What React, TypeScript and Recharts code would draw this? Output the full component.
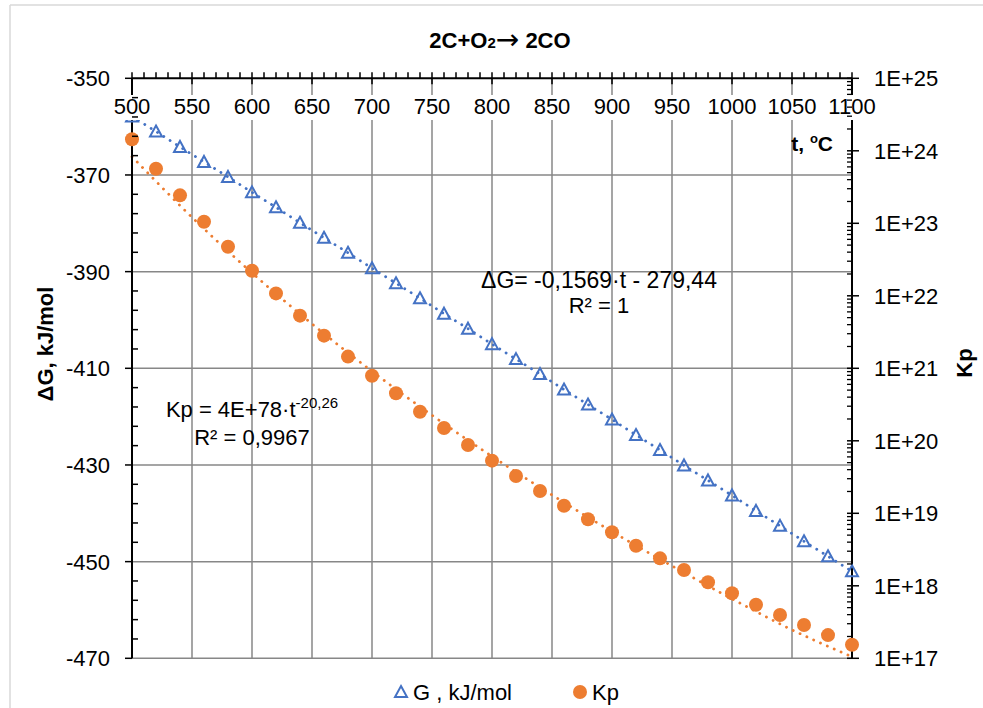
import React from 'react'
import { ComposedChart, Line, XAxis, YAxis, CartesianGrid } from 'recharts'

// temperatures of the measured points, °C
const temps = [
  500, 520, 540, 560, 580, 600, 620, 640, 660, 680, 700, 720, 740, 760, 780, 800,
  820, 840, 860, 880, 900, 920, 940, 960, 980, 1000, 1020, 1040, 1060, 1080, 1100,
]

// ΔG, kJ/mol
const dG = [
  -357.9, -361.0, -364.2, -367.3, -370.4, -373.6, -376.7, -379.9, -383.0, -386.1, -389.3,
  -392.4, -395.5, -398.7, -401.8, -405.0, -408.1, -411.2, -414.4, -417.5, -420.6, -423.8,
  -426.9, -430.1, -433.2, -436.3, -439.5, -442.6, -445.8, -448.9, -452.0,
]

// Kp
const kp = [
  1.44e24, 5.66e23, 2.43e23, 1.05e23, 4.75e22, 2.22e22, 1.08e22, 5.32e21, 2.82e21, 1.45e21,
  7.91e20, 4.52e20, 2.52e20, 1.5e20, 8.75e19, 5.32e19, 3.27e19, 2.03e19, 1.27e19, 8.26e18,
  5.47e18, 3.57e18, 2.39e18, 1.65e18, 1.12e18, 7.89e17, 5.48e17, 3.95e17, 2.88e17, 2.09e17,
  1.54e17,
]

// power trendline of Kp, read at every 50 °C
const trendTemps = [500, 550, 600, 650, 700, 750, 800, 850, 900, 950, 1000, 1050, 1100]
const kpTrend = [
  8.3e23, 1.21e23, 2.07e22, 4.1e21, 9.1e20, 2.25e20, 6.1e19, 1.79e19, 5.6e18, 1.88e18,
  6.6e17, 2.47e17, 1.05e17,
]

const xLabels = [500, 550, 600, 650, 700, 750, 800, 850, 900, 950, 1000, 1050, 1100]
const gLabels = [-350, -370, -390, -410, -430, -450, -470]
const kpExponents = [17, 18, 19, 20, 21, 22, 23, 24, 25]

const rows = temps.map((t, i) => ({ t, g: dG[i], kp: kp[i] }))
const trendRows = trendTemps.map((t, i) => ({ t, trend: kpTrend[i] }))

const xTicks: number[] = []
for (let v = 500; v <= 1100; v += 10) xTicks.push(v)
const gTicks: number[] = []
for (let v = -470; v <= -350; v += 4) gTicks.push(v)
const kpTicks: number[] = []
kpExponents.forEach((e) => {
  if (e === 25) kpTicks.push(1e25)
  else for (let m = 1; m <= 9; m++) kpTicks.push(Number(`${m}e${e}`))
})

const BLUE = '#4472C4'
const ORANGE = '#ED7D31'
const GRID = '#878787'
const FONT = "'Liberation Sans', Arial, sans-serif"

const W = 983
const H = 708
const LEFT = 132
const RIGHT = 852
const TOP = 78.3
const BOTTOM = 658.3

function XTick(props: any) {
  const { x, payload } = props
  const v = payload.value
  if (!xLabels.includes(v)) {
    return <line x1={x} x2={x} y1={TOP} y2={TOP - 6} stroke="#000" strokeWidth={1.5} />
  }
  const w = String(v).length * 12.5 + 4
  return (
    <g>
      <line x1={x} x2={x} y1={TOP - 6} y2={TOP + 6} stroke="#000" strokeWidth={1.5} />
      <rect x={x - w / 2} y={95} width={w} height={25} fill="#fff" />
      <text x={x} y={114} textAnchor="middle" fontSize={22} fontFamily={FONT} fill="#000">
        {v}
      </text>
    </g>
  )
}

function LeftTick(props: any) {
  const { y, payload } = props
  const v = payload.value
  if (!gLabels.includes(v)) {
    return <line x1={LEFT} x2={LEFT + 6} y1={y} y2={y} stroke="#000" strokeWidth={1.5} />
  }
  return (
    <g>
      <line x1={LEFT - 7} x2={LEFT} y1={y} y2={y} stroke="#000" strokeWidth={1.5} />
      <text x={110} y={y + 8} textAnchor="end" fontSize={22} fontFamily={FONT} fill="#000">
        {v}
      </text>
    </g>
  )
}

function RightTick(props: any) {
  const { y, payload } = props
  const lg = Math.log10(payload.value)
  const exp = Math.round(lg)
  if (Math.abs(lg - exp) > 1e-6) {
    return <line x1={RIGHT - 5} x2={RIGHT} y1={y} y2={y} stroke="#000" strokeWidth={1.3} />
  }
  return (
    <g>
      <line x1={RIGHT - 5} x2={RIGHT + 7} y1={y} y2={y} stroke="#000" strokeWidth={1.5} />
      <text x={874} y={y + 8} textAnchor="start" fontSize={22} fontFamily={FONT} fill="#000">
        {`1E+${exp}`}
      </text>
    </g>
  )
}

function Triangle(props: any) {
  const { cx, cy } = props
  if (cx == null || cy == null) return null
  return (
    <path
      d={`M${cx},${cy - 6} L${cx + 6},${cy + 5} L${cx - 6},${cy + 5} Z`}
      fill="none"
      stroke={BLUE}
      strokeWidth={2}
    />
  )
}

function Dot(props: any) {
  const { cx, cy } = props
  if (cx == null || cy == null) return null
  return <circle cx={cx} cy={cy} r={7} fill={ORANGE} />
}

export default function App() {
  return (
    <div style={{ position: 'absolute', left: 0, top: 0, width: W, height: H, background: '#fff' }}>
      <ComposedChart
        width={W}
        height={H}
        data={rows}
        margin={{ top: TOP - 30, right: W - RIGHT - 60, bottom: H - BOTTOM, left: LEFT - 60 }}
      >
        <CartesianGrid
          horizontalValues={[-370, -390, -410, -430, -450, -470]}
          verticalValues={[550, 600, 650, 700, 750, 800, 850, 900, 950, 1000, 1050]}
          stroke={GRID}
          strokeWidth={1.5}
        />
        <XAxis
          dataKey="t"
          type="number"
          orientation="top"
          domain={[500, 1100]}
          ticks={xTicks}
          interval={0}
          height={30}
          tickLine={false}
          axisLine={{ stroke: '#000', strokeWidth: 2 }}
          tick={(p: any) => <XTick {...p} />}
        />
        <YAxis
          type="number"
          domain={[-470, -350]}
          ticks={gTicks}
          interval={0}
          width={60}
          allowDataOverflow
          tickLine={false}
          axisLine={{ stroke: '#000', strokeWidth: 2 }}
          tick={(p: any) => <LeftTick {...p} />}
        />
        <YAxis
          yAxisId="right"
          orientation="right"
          type="number"
          scale="log"
          domain={[1e17, 1e25]}
          ticks={kpTicks}
          interval={0}
          width={60}
          allowDataOverflow
          tickLine={false}
          axisLine={{ stroke: '#000', strokeWidth: 2 }}
          tick={(p: any) => <RightTick {...p} />}
        />
        <Line
          yAxisId="right"
          data={trendRows}
          dataKey="trend"
          type="monotone"
          stroke={ORANGE}
          strokeWidth={2.8}
          strokeDasharray="0.1 7.4"
          strokeLinecap="round"
          dot={false}
          activeDot={false}
          isAnimationActive={false}
        />
        <Line
          yAxisId="right"
          dataKey="kp"
          stroke="none"
          dot={(p: any) => <Dot key={p.index} {...p} />}
          activeDot={false}
          isAnimationActive={false}
        />
        <Line
          dataKey="g"
          type="linear"
          stroke={BLUE}
          strokeWidth={2.8}
          strokeDasharray="0.1 7.4"
          strokeLinecap="round"
          dot={(p: any) => <Triangle key={p.index} {...p} />}
          activeDot={false}
          isAnimationActive={false}
        />
      </ComposedChart>

      <svg
        width={W}
        height={H}
        style={{ position: 'absolute', left: 0, top: 0, pointerEvents: 'none' }}
        fontFamily={FONT}
      >
        <line x1={10} x2={10} y1={5} y2={H} stroke="#d9d9d9" strokeWidth={1.5} />
        <line x1={10} x2={W} y1={5} y2={5} stroke="#d9d9d9" strokeWidth={1.5} />

        <text x={500} y={48} textAnchor="middle" fontSize={22} fontWeight="bold" fill="#000">
          2C+O<tspan fontSize={15}>2</tspan>
          <tspan fontWeight="normal" fontFamily="'DejaVu Sans'" fontSize={28} dy={1}>
            →
          </tspan>
          <tspan dy={-1}> 2CO</tspan>
        </text>

        <text x={833} y={151} textAnchor="end" fontSize={21} fontWeight="bold" fill="#000">
          t, <tspan fontSize={13} dy={-8}>o</tspan>
          <tspan dy={8}>C</tspan>
        </text>

        <text
          transform="translate(53,344) rotate(-90)"
          textAnchor="middle"
          fontSize={22}
          fontWeight="bold"
          fill="#000"
        >
          ΔG, kJ/mol
        </text>
        <text
          transform="translate(972,363) rotate(-90)"
          textAnchor="middle"
          fontSize={22}
          fontWeight="bold"
          fill="#000"
        >
          Kp
        </text>

        <text x={599} y={288} textAnchor="middle" fontSize={23} fill="#000">
          ΔG= -0,1569·t - 279,44
        </text>
        <text x={599} y={313} textAnchor="middle" fontSize={22} fill="#000">
          R² = 1
        </text>

        <text x={252} y={417} textAnchor="middle" fontSize={22} fill="#000">
          Kp = 4E+78·t<tspan fontSize={15} dy={-9}>-20,26</tspan>
        </text>
        <text x={252} y={445} textAnchor="middle" fontSize={22} fill="#000">
          R² = 0,9967
        </text>

        <path d="M401,686 L407,697 L395,697 Z" fill="none" stroke={BLUE} strokeWidth={2} />
        <text x={413} y={700} fontSize={22} fill="#000">
          G , kJ/mol
        </text>
        <circle cx={580} cy={692} r={7} fill={ORANGE} />
        <text x={592} y={700} fontSize={22} fill="#000">
          Kp
        </text>
      </svg>
    </div>
  )
}
